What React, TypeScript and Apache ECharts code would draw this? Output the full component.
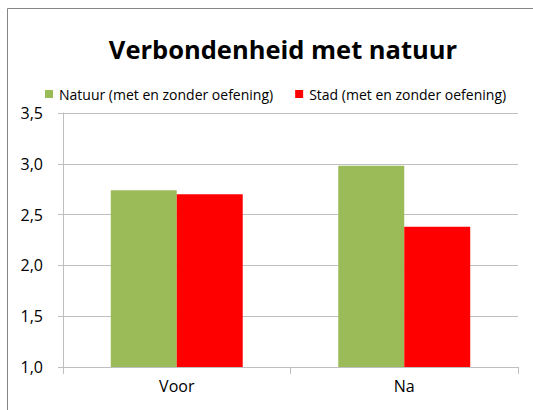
import React, { useEffect, useRef } from "react";
import * as echarts from "echarts";

const categories = ["Voor", "Na"];
const natuurValues = [2.74, 2.98];
const stadValues = [2.7, 2.38];
const seriesNames = ["Natuur (met en zonder oefening)", "Stad (met en zonder oefening)"];
const titleText = "Verbondenheid met natuur";

const FONT = "'Open Sans', 'Noto Sans', sans-serif";

export default function App() {
  const ref = useRef<HTMLDivElement>(null);
  useEffect(() => {
    if (!ref.current) return;
    const chart = echarts.init(ref.current, null, { renderer: "svg" });
    chart.setOption({
      animation: false,
      backgroundColor: "#ffffff",
      textStyle: { fontFamily: FONT },
      title: {
        text: titleText,
        left: 278,
        top: 31,
        textAlign: "center",
        textStyle: { fontFamily: FONT, fontSize: 25.5, fontWeight: "bold", color: "#000" },
      },
      legend: {
        left: 40,
        top: 82,
        itemWidth: 8,
        itemHeight: 8,
        itemGap: 22,
        icon: "rect",
        textStyle: { fontFamily: FONT, fontSize: 14, color: "#000", padding: [0, 0, 0, 1] },
        data: seriesNames,
      },
      graphic: [
        {
          type: "rect",
          shape: { x: 7.5, y: 8.5, width: 540, height: 420 },
          style: { fill: "none", stroke: "#868686", lineWidth: 1 },
          silent: true,
          z: -1,
        },
      ],
      grid: { left: 63, right: 15, top: 113, bottom: 43, containLabel: false },
      xAxis: {
        type: "category",
        data: categories,
        axisLine: { lineStyle: { color: "#bfbfbf", width: 1 } },
        axisTick: { show: true, length: 7, lineStyle: { color: "#bfbfbf" } },
        axisLabel: { color: "#000", fontSize: 16, fontFamily: FONT, margin: 11 },
      },
      yAxis: {
        type: "value",
        min: 1,
        max: 3.5,
        interval: 0.5,
        axisLine: { show: true, lineStyle: { color: "#bfbfbf", width: 1 } },
        axisTick: { show: true, length: 5, lineStyle: { color: "#bfbfbf" } },
        axisLabel: {
          color: "#000",
          fontSize: 16,
          fontFamily: FONT,
          margin: 20,
          formatter: (v: number) => v.toFixed(1).replace(".", ","),
        },
        splitLine: { lineStyle: { color: "#bfbfbf", width: 1 } },
      },
      series: [
        {
          name: seriesNames[0],
          type: "bar",
          data: natuurValues,
          itemStyle: { color: "#9BBB59" },
          barGap: "0%",
          barCategoryGap: "42%",
        },
        {
          name: seriesNames[1],
          type: "bar",
          data: stadValues,
          itemStyle: { color: "#FF0000" },
          barGap: "0%",
          barCategoryGap: "42%",
        },
      ],
    });
    return () => chart.dispose();
  }, []);
  return (
    <div
      ref={ref}
      style={{ position: "fixed", left: 0, top: 0, width: 533, height: 410 }}
    />
  );
}
